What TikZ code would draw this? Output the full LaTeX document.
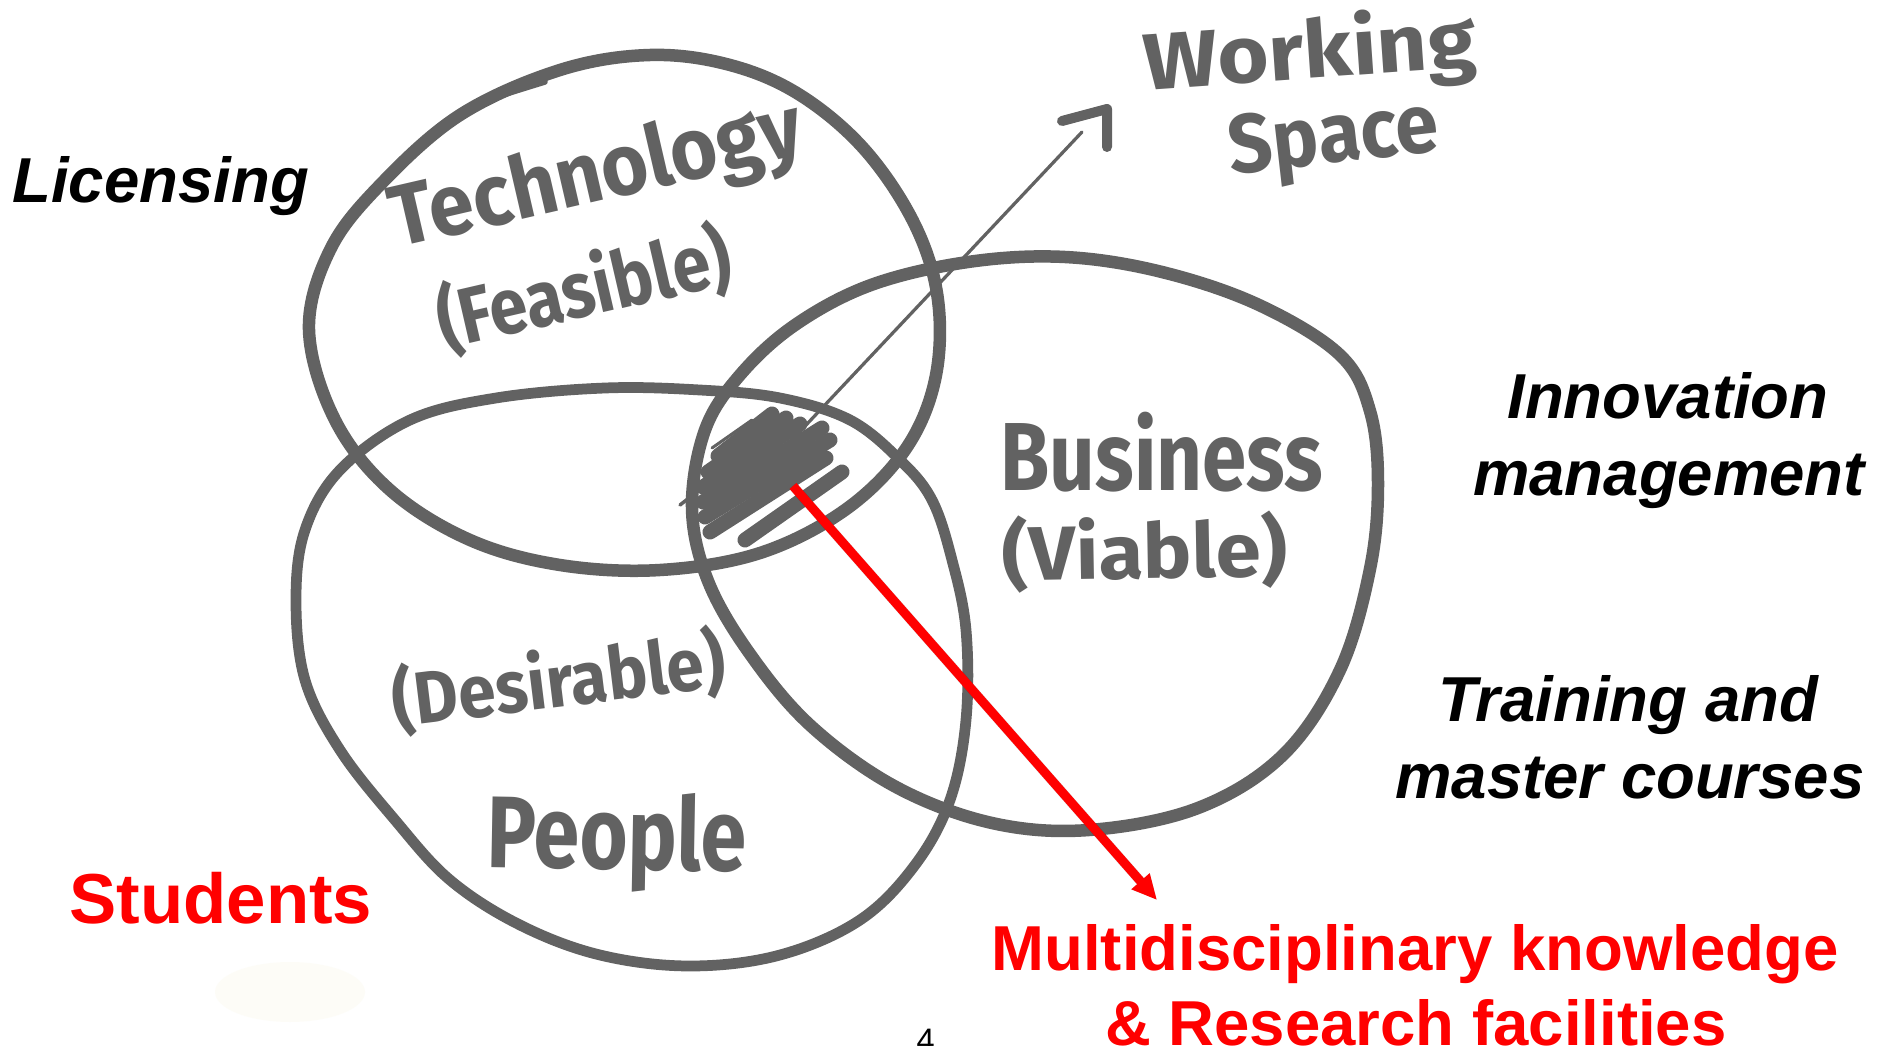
\documentclass[tikz,border=0pt]{standalone}
\usepackage{fontspec}
\usepackage{graphicx}
\setmainfont{Liberation Sans}
\newfontfamily\hwfont{Fira Sans}
\usetikzlibrary{arrows.meta}
\definecolor{mk}{RGB}{98,98,98}
\definecolor{smudge}{RGB}{250,248,230}
\begin{document}
\begin{tikzpicture}[x=0.4pt,y=-0.4pt,
  circ/.style={draw=mk, line width=5pt, line cap=round, line join=round},
  hand/.style={text=mk, inner sep=0pt, font=\hwfont\bfseries},
  scrib/.style={draw=mk, line width=6pt, line cap=round},
  lab/.style={inner sep=0pt, anchor=base, text=black, font=\fontsize{25.4pt}{29pt}\selectfont\bfseries\itshape},
  redlab/.style={inner sep=0pt, anchor=base, text=red, font=\fontsize{25.4pt}{29pt}\selectfont\bfseries},
]
\useasboundingbox (0,0) rectangle (1888,1046);
\clip (0,0) rectangle (1888,1046);
\fill[white] (0,0) rectangle (1888,1046);
\fill[smudge, opacity=0.3] (290,992) ellipse [x radius=75, y radius=30];

% circles
\draw[circ] plot[smooth cycle, tension=0.6] coordinates {
  (309,330) (330,250) (380,185) (460,115) (560,70) (650,55) (730,65) (800,95)
  (865,150) (915,225) (938,300) (935,380) (905,450) (845,510) (760,553)
  (660,570) (560,565) (470,540) (390,490) (335,420)};
\draw[mk, line width=2.2pt, line cap=round] (448,121) .. controls (480,102) .. (545,82);
\draw[circ] plot[smooth cycle, tension=0.6] coordinates {
  (692,508) (705,430) (740,375) (795,325) (871,285) (968,262) (1065,257)
  (1162,272) (1259,305) (1340,355) (1370,411) (1378,484) (1370,569) (1340,670)
  (1283,755) (1198,808) (1089,830) (992,823) (896,787) (811,726) (750,654) (708,581)};
\draw[circ, line width=4.3pt] plot[smooth cycle, tension=0.6] coordinates {
  (496,398) (605,388) (700,390) (780,398) (850,420) (900,460) (932,500)
  (952,560) (966,630) (966,720) (950,800) (915,865) (860,920) (780,955)
  (690,966) (600,955) (520,925) (450,880) (395,820) (340,750) (305,680)
  (296,600) (305,530) (340,470) (410,420)};

% scribble in the common area
\draw[scrib] (710,532) -- (826,458);
\draw[scrib] (705,517) -- (830,440);
\draw[scrib] (703,502) -- (822,428);
\draw[scrib] (703,487) -- (800,424);
\draw[scrib] (708,472) -- (786,418);
\draw[scrib] (718,456) -- (772,414);
\draw[scrib] (745,540) -- (842,472);
\draw[mk, line width=1.4pt, line cap=round] (680,505) -- (735,462);
\draw[mk, line width=1.2pt, line cap=round] (712,448) -- (752,420);

% handwritten labels
\node[hand, rotate=13] (tech) at (597,178) {\resizebox*{168pt}{34pt}{Technology}};
\node[hand, rotate=13] (feas) at (584,289) {\resizebox*{120pt}{32pt}{(Feasible)}};
\node[hand] (bus) at (1162,452) {\resizebox*{129pt}{32pt}{Business}};
\node[hand, rotate=1] (viab) at (1145,552) {\resizebox*{114pt}{31pt}{(Viable)}};
\node[hand, rotate=7] (desir) at (559,681) {\resizebox*{134pt}{30pt}{(Desirable)}};
\node[hand, rotate=-1] (people) at (617,842) {\resizebox*{104pt}{40pt}{People}};
\node[hand, rotate=4] (work) at (1310,55) {\resizebox*{133pt}{33pt}{Working}};
\node[hand, rotate=6.5] (space) at (1334,142) {\resizebox*{84pt}{31pt}{Space}};

% black labels
\node[lab, anchor=base west] (lic) at (12,203) {Licensing};
\node[lab] (innovA) at (1668,418) {Innovation};
\node[lab] (innovB) at (1669,495) {management};
\node[lab] (trainA) at (1628,721) {Training and};
\node[lab] (trainB) at (1630,798) {master courses};

% red labels
\node[redlab, anchor=base west, font=\fontsize{28.3pt}{32pt}\selectfont\bfseries] (students) at (69,923) {Students};
\node[redlab] (multiA) at (1415,970) {Multidisciplinary knowledge};
\node[redlab] (multiB) at (1416,1045) {\& Research facilities};

% page number (cut)
\node[inner sep=0pt, anchor=base west, font=\fontsize{13pt}{15pt}\selectfont] (pageno) at (916,1051) {4};

% arrow to working space
\coordinate (hatch) at (775,458);
\coordinate (wsTip) at (1082,132);
\draw[mk, line width=1.3pt, line cap=round] (hatch) -- (wsTip);
\draw[mk, line width=4pt, line cap=round, line join=round] (1062,121) -- (1107,109) -- (1107,147);

% red arrow
\coordinate (core) at (793,486);
\coordinate (redTip) at (1157,900);
\begin{scope}[shift={(3,4)}]
\draw[black, opacity=0.18, line width=3.8pt, -{Triangle[length=10pt,width=9pt]}] (core) -- (redTip);
\end{scope}
\draw[red, line width=3.6pt, -{Triangle[length=10pt,width=9pt]}] (core) -- (redTip);
\end{tikzpicture}
\end{document}
